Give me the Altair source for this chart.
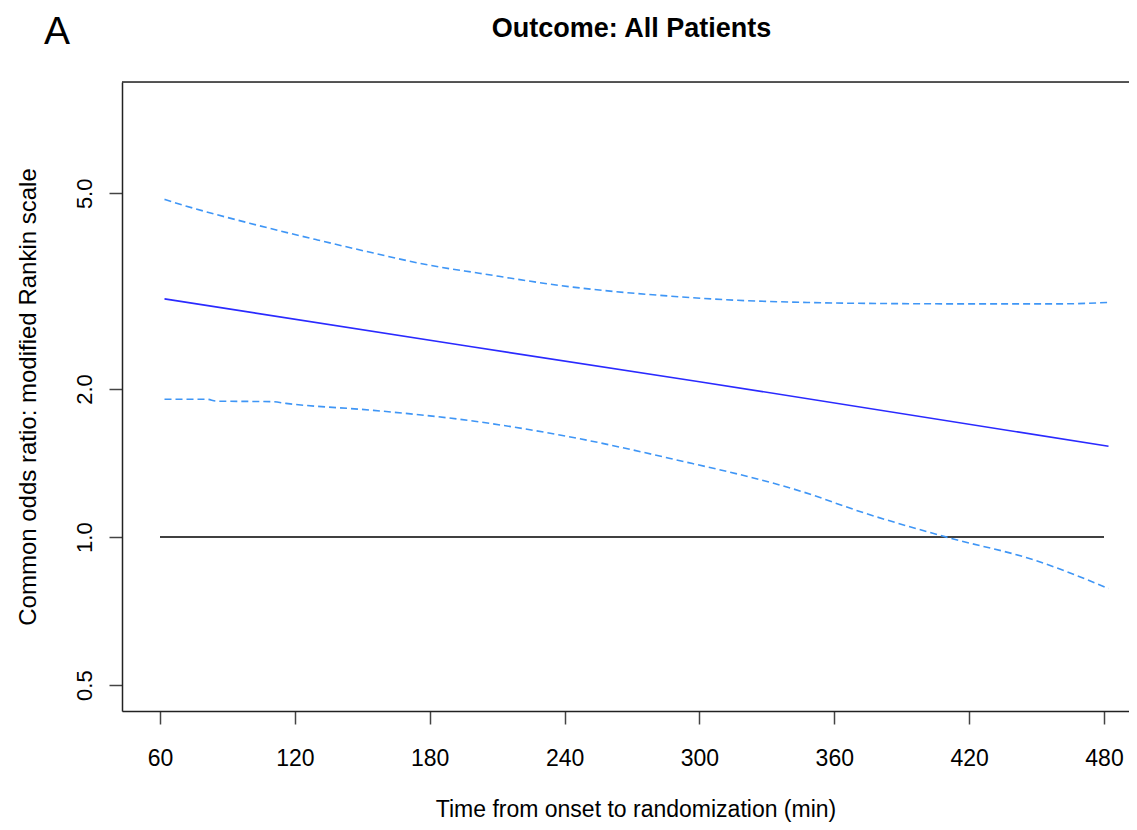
import altair as alt
import pandas as pd

# ---- data ----
est_t = [62, 198, 300, 482]
est_or = [3.05, 2.44, 2.07, 1.53]

upper_t = [62, 67, 103, 130, 155, 180, 202, 242, 287, 317, 348, 364, 420, 460, 482]
upper_or = [4.86, 4.78, 4.31, 4.02, 3.78, 3.57, 3.44, 3.23, 3.09, 3.03, 3.00, 2.99, 2.98, 2.98, 3.00]

lower_t = [62, 81, 85, 110, 116, 155, 200, 242, 287, 345, 374, 411, 449, 482]
lower_or = [1.906, 1.906, 1.89, 1.885, 1.87, 1.81, 1.72, 1.60, 1.445, 1.24, 1.117, 0.997, 0.898, 0.786]

ref_t = [60, 480]
ref_or = [1.0, 1.0]

x_ticks = [60, 120, 180, 240, 300, 360, 420, 480]
y_ticks = [0.5, 1.0, 2.0, 5.0]

title_text = "Outcome: All Patients"
panel_label = "A"
x_title = "Time from onset to randomization (min)"
y_title = "Common odds ratio: modified Rankin scale"

FONT = "Liberation Sans"
W, H = 1007, 629

est = pd.DataFrame({"t": est_t, "or": est_or})
upper = pd.DataFrame({"t": upper_t, "or": upper_or})
lower = pd.DataFrame({"t": lower_t, "or": lower_or})
ref = pd.DataFrame({"t": ref_t, "or": ref_or})

xs = alt.Scale(domain=[43.09, 491.12], nice=False, zero=False)
ys = alt.Scale(type="log", domain=[0.443, 8.42], nice=False)

xaxis = alt.Axis(values=x_ticks, format="d", title=x_title, grid=False,
                 domainColor="#222", domainWidth=1.5, tickColor="#444", tickWidth=1.5,
                 tickSize=13, labelFontSize=23, labelFont=FONT, labelColor="black",
                 labelBaseline="alphabetic", labelPadding=41, labelFlush=False,
                 titleFont=FONT, titleFontSize=23, titleFontWeight="normal", titleColor="black",
                 titleBaseline="alphabetic", titleAlign="center", titleX=W / 2 + 10, titleY=105)
yaxis = alt.Axis(values=y_ticks, format=".1f", title=y_title, grid=False,
                 domainColor="#222", domainWidth=1.5, tickColor="#444", tickWidth=1.5,
                 tickSize=13, labelFontSize=22, labelFont=FONT, labelColor="black",
                 labelAngle=270, labelAlign="center", labelBaseline="alphabetic",
                 labelPadding=18, labelFlush=False,
                 titleFont=FONT, titleFontSize=24, titleFontWeight="normal", titleColor="black",
                 titleAngle=270, titleAlign="center", titleBaseline="alphabetic",
                 titleX=-87, titleY=H / 2)

X = alt.X("t:Q", scale=xs, axis=xaxis)
Y = alt.Y("or:Q", scale=ys, axis=yaxis)

ref_line = alt.Chart(ref).mark_line(color="black", strokeWidth=1.5).encode(x=X, y=Y)
upper_line = alt.Chart(upper).mark_line(color="#3f96f6", strokeWidth=1.6, strokeDash=[7, 4],
                                        interpolate="monotone").encode(x=X, y=Y)
lower_line = alt.Chart(lower).mark_line(color="#3f96f6", strokeWidth=1.6, strokeDash=[7, 4],
                                        interpolate="monotone").encode(x=X, y=Y)
est_line = alt.Chart(est).mark_line(color="#2a2aff", strokeWidth=1.6).encode(x=X, y=Y)

one = pd.DataFrame({"a": [0]})
top_border = alt.Chart(one).mark_rule(color="#222", strokeWidth=1.5).encode(
    x=alt.value(0), x2=alt.value(W), y=alt.value(0))
title_mark = alt.Chart(one).mark_text(font=FONT, fontSize=27, fontWeight="bold", color="black",
                                      align="center", baseline="alphabetic").encode(
    x=alt.value(W / 2 + 6), y=alt.value(-45), text=alt.value(title_text))
label_mark = alt.Chart(one).mark_text(font=FONT, fontSize=39, color="black",
                                      align="center", baseline="alphabetic").encode(
    x=alt.value(-65), y=alt.value(-38), text=alt.value(panel_label))

chart = alt.layer(ref_line, upper_line, lower_line, est_line, top_border, title_mark, label_mark).properties(
    width=W, height=H,
    autosize=alt.AutoSizeParams(type="none"),
    padding={"left": 114, "top": 74, "right": 0, "bottom": 111},
).configure_view(stroke=None).configure(background="white")

chart.save("out.html", embed_options={"renderer": "svg", "actions": False})
